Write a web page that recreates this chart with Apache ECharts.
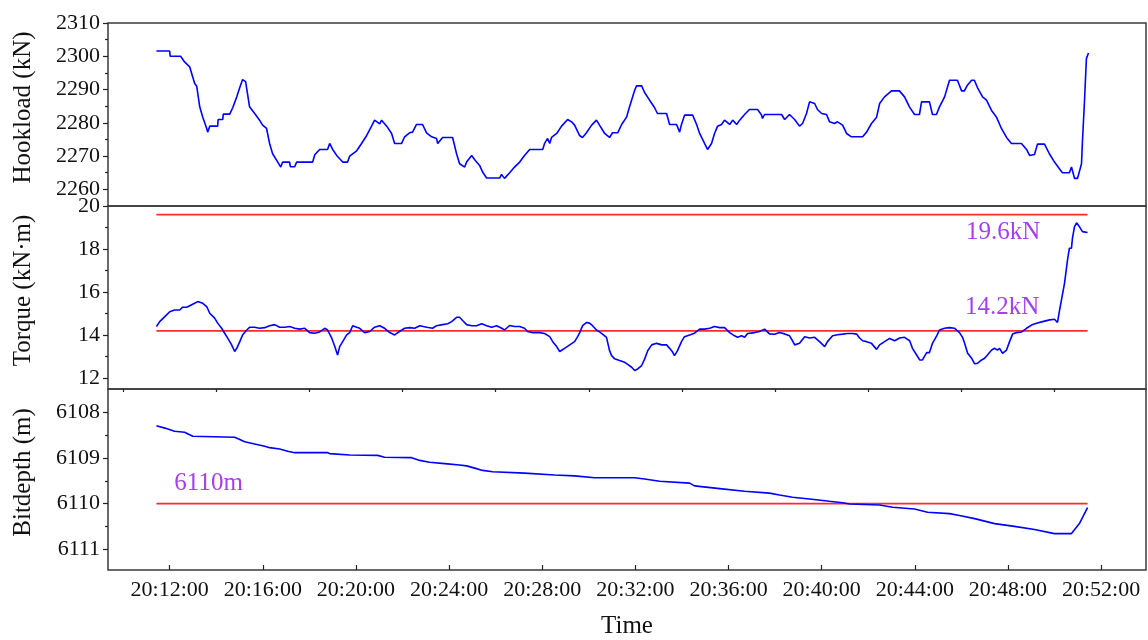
<!DOCTYPE html>
<html><head><meta charset="utf-8">
<script src="https://cdn.jsdelivr.net/npm/echarts@6/dist/echarts.min.js"></script>
<style>html,body{margin:0;padding:0;background:#fff}#c{width:1148px;height:640px}</style>
</head><body><div id="c"></div>
<script>
// time = minutes after 20:00
const hookload = [[11.43,2301.6],[12.00,2301.6],[12.02,2300.0],[12.47,2300.0],[12.64,2298.3],[12.86,2296.8],[13.07,2291.9],[13.16,2291.0],[13.29,2284.8],[13.42,2281.7],[13.59,2278.3],[13.63,2277.2],[13.72,2279.0],[14.06,2279.0],[14.08,2281.0],[14.28,2281.0],[14.30,2282.6],[14.58,2282.6],[14.71,2284.6],[14.88,2287.8],[15.01,2290.6],[15.13,2293.0],[15.26,2292.4],[15.43,2284.8],[15.65,2282.8],[15.86,2280.8],[15.99,2279.3],[16.16,2278.3],[16.29,2273.8],[16.42,2270.7],[16.64,2268.2],[16.77,2266.7],[16.85,2268.2],[17.15,2268.2],[17.18,2266.8],[17.37,2266.8],[17.45,2268.2],[18.14,2268.2],[18.23,2270.4],[18.44,2272.0],[18.78,2272.0],[18.87,2273.8],[19.00,2272.0],[19.17,2270.2],[19.43,2268.2],[19.64,2268.2],[19.73,2270.0],[20.03,2271.6],[20.24,2273.8],[20.46,2276.2],[20.67,2279.0],[20.80,2280.8],[21.02,2279.7],[21.10,2280.8],[21.32,2279.0],[21.53,2276.8],[21.66,2273.8],[21.96,2273.8],[22.09,2275.8],[22.30,2277.0],[22.43,2277.2],[22.60,2279.5],[22.86,2279.5],[23.03,2277.0],[23.25,2275.8],[23.46,2275.3],[23.51,2273.8],[23.72,2275.6],[24.15,2275.6],[24.32,2270.7],[24.45,2267.7],[24.67,2266.7],[24.75,2268.2],[24.97,2270.2],[25.10,2268.9],[25.31,2267.2],[25.44,2265.2],[25.61,2263.4],[26.17,2263.4],[26.25,2264.5],[26.38,2263.3],[26.60,2265.0],[26.81,2266.7],[27.03,2268.2],[27.24,2270.2],[27.46,2272.0],[28.02,2272.0],[28.10,2273.8],[28.23,2275.3],[28.32,2273.8],[28.40,2275.6],[28.62,2276.8],[28.83,2279.0],[29.09,2281.0],[29.26,2280.3],[29.39,2279.3],[29.60,2276.2],[29.73,2275.6],[29.90,2277.0],[30.12,2279.3],[30.33,2280.8],[30.46,2279.3],[30.68,2276.8],[30.89,2275.6],[31.02,2277.0],[31.24,2277.0],[31.41,2279.5],[31.62,2281.7],[31.75,2284.8],[31.97,2289.8],[32.05,2291.1],[32.27,2291.1],[32.39,2289.2],[32.61,2286.8],[32.82,2284.6],[32.95,2282.8],[33.34,2282.8],[33.47,2279.5],[33.77,2279.5],[33.90,2277.2],[33.98,2279.5],[34.11,2282.3],[34.46,2282.3],[34.63,2279.5],[34.76,2276.8],[34.97,2273.8],[35.10,2272.0],[35.27,2273.8],[35.40,2276.8],[35.53,2279.0],[35.70,2279.5],[35.83,2280.8],[36.05,2279.5],[36.18,2280.8],[36.35,2279.5],[36.48,2280.8],[36.69,2282.5],[36.90,2284.0],[37.25,2284.0],[37.42,2282.3],[37.46,2281.3],[37.55,2282.5],[38.28,2282.5],[38.41,2281.0],[38.62,2282.5],[38.84,2281.0],[39.05,2279.0],[39.18,2279.8],[39.35,2282.8],[39.48,2286.3],[39.70,2285.8],[39.82,2284.0],[40.00,2282.8],[40.21,2282.5],[40.34,2280.3],[40.55,2279.8],[40.68,2280.3],[40.90,2279.3],[41.07,2276.8],[41.28,2275.8],[41.76,2275.8],[41.93,2277.2],[42.14,2279.8],[42.36,2281.7],[42.49,2285.8],[42.70,2287.8],[43.00,2289.6],[43.34,2289.6],[43.56,2287.8],[43.77,2284.8],[43.99,2282.5],[44.20,2282.5],[44.29,2286.3],[44.63,2286.3],[44.76,2282.5],[44.93,2282.5],[45.06,2284.8],[45.28,2287.8],[45.49,2292.8],[45.83,2292.8],[46.01,2289.6],[46.13,2289.6],[46.26,2291.3],[46.44,2292.8],[46.56,2292.8],[46.69,2290.6],[46.91,2287.8],[47.08,2286.8],[47.29,2283.8],[47.51,2281.7],[47.72,2278.3],[47.94,2275.6],[48.15,2273.8],[48.58,2273.8],[48.80,2272.0],[48.93,2270.2],[49.14,2270.5],[49.27,2273.6],[49.57,2273.6],[49.78,2270.7],[50.00,2268.2],[50.21,2266.2],[50.34,2265.0],[50.64,2265.0],[50.73,2266.7],[50.86,2263.3],[50.99,2263.3],[51.16,2267.7],[51.20,2274.3],[51.29,2286.8],[51.37,2299.3],[51.46,2301.0]];

const torque = [[11.43,14.40],[11.57,14.63],[11.79,14.86],[12.00,15.09],[12.21,15.17],[12.43,15.17],[12.56,15.30],[12.73,15.30],[12.86,15.37],[13.07,15.48],[13.20,15.56],[13.42,15.48],[13.59,15.33],[13.72,15.02],[13.93,14.79],[14.06,14.56],[14.23,14.32],[14.36,14.09],[14.49,13.86],[14.66,13.55],[14.79,13.24],[14.88,13.39],[15.01,13.70],[15.13,14.01],[15.31,14.24],[15.44,14.37],[15.65,14.37],[15.86,14.32],[16.08,14.35],[16.29,14.44],[16.51,14.49],[16.72,14.37],[16.94,14.37],[17.15,14.40],[17.37,14.32],[17.58,14.28],[17.80,14.32],[18.01,14.12],[18.23,14.09],[18.44,14.15],[18.66,14.32],[18.78,14.24],[18.96,13.86],[19.09,13.47],[19.21,13.08],[19.30,13.47],[19.43,13.70],[19.60,14.01],[19.73,14.12],[19.86,14.44],[20.03,14.37],[20.16,14.32],[20.37,14.12],[20.59,14.17],[20.80,14.37],[21.02,14.44],[21.23,14.32],[21.45,14.12],[21.66,14.01],[21.88,14.18],[22.09,14.32],[22.31,14.35],[22.52,14.32],[22.74,14.44],[23.04,14.37],[23.29,14.32],[23.46,14.44],[23.72,14.49],[23.94,14.53],[24.11,14.63],[24.32,14.83],[24.45,14.83],[24.58,14.68],[24.75,14.49],[24.97,14.44],[25.18,14.44],[25.40,14.53],[25.61,14.44],[25.83,14.37],[26.04,14.44],[26.26,14.32],[26.38,14.24],[26.60,14.45],[26.81,14.40],[27.03,14.40],[27.24,14.32],[27.37,14.17],[27.59,14.12],[27.89,14.12],[28.10,14.08],[28.32,13.93],[28.45,13.70],[28.62,13.47],[28.75,13.24],[28.83,13.16],[28.96,13.39],[29.18,13.55],[29.39,13.70],[29.52,13.93],[29.61,14.12],[29.73,14.44],[29.91,14.59],[30.03,14.56],[30.16,14.44],[30.33,14.24],[30.46,14.15],[30.59,14.05],[30.76,13.90],[30.89,13.28],[30.98,13.05],[31.11,12.90],[31.32,12.82],[31.54,12.74],[31.67,12.64],[31.84,12.51],[31.97,12.36],[32.10,12.43],[32.27,12.59],[32.40,12.90],[32.53,13.28],[32.70,13.55],[32.91,13.62],[33.13,13.55],[33.34,13.55],[33.56,13.28],[33.68,13.05],[33.81,13.28],[33.98,13.70],[34.11,13.93],[34.33,14.01],[34.54,14.09],[34.76,14.28],[34.97,14.28],[35.19,14.32],[35.40,14.40],[35.62,14.35],[35.83,14.35],[36.05,14.12],[36.26,13.97],[36.39,13.90],[36.56,13.97],[36.69,13.90],[36.82,14.08],[37.12,14.12],[37.33,14.17],[37.55,14.28],[37.76,14.06],[37.98,14.04],[38.19,14.12],[38.41,14.06],[38.62,13.97],[38.75,13.74],[38.84,13.55],[39.05,13.62],[39.27,13.93],[39.48,13.87],[39.70,13.90],[39.91,13.70],[40.13,13.47],[40.25,13.70],[40.47,13.97],[40.68,14.02],[40.90,14.05],[41.11,14.08],[41.33,14.08],[41.50,14.05],[41.63,13.87],[41.76,13.74],[41.93,13.70],[42.14,13.62],[42.36,13.34],[42.49,13.55],[42.70,13.70],[42.92,13.85],[43.13,13.74],[43.35,13.87],[43.56,13.90],[43.78,13.74],[43.90,13.39],[44.08,13.08],[44.21,12.85],[44.33,12.85],[44.51,13.19],[44.63,13.19],[44.76,13.62],[44.94,13.97],[45.06,14.24],[45.28,14.32],[45.49,14.35],[45.71,14.32],[45.92,14.12],[46.05,13.90],[46.14,13.62],[46.27,13.16],[46.44,12.93],[46.57,12.67],[46.70,12.70],[46.87,12.85],[47.00,12.93],[47.12,13.08],[47.30,13.31],[47.43,13.39],[47.55,13.31],[47.64,13.39],[47.77,13.16],[47.94,13.31],[48.07,13.70],[48.20,14.05],[48.37,14.12],[48.59,14.15],[48.80,14.32],[49.01,14.47],[49.23,14.55],[49.49,14.63],[49.79,14.71],[50.00,14.74],[50.13,14.59],[50.22,15.17],[50.30,15.64],[50.43,16.41],[50.56,17.50],[50.64,18.04],[50.73,18.04],[50.77,18.50],[50.86,19.04],[50.95,19.22],[51.07,19.04],[51.20,18.81],[51.42,18.77]];

const bitdepth = [[11.43,6108.29],[11.79,6108.34],[12.21,6108.41],[12.64,6108.43],[12.99,6108.52],[13.07,6108.54],[14.79,6108.54],[15.01,6108.59],[15.22,6108.64],[15.65,6108.69],[16.08,6108.74],[16.29,6108.77],[16.72,6108.80],[17.07,6108.85],[17.37,6108.88],[18.78,6108.88],[18.87,6108.90],[19.73,6108.93],[20.93,6108.94],[21.23,6108.98],[22.39,6108.99],[22.74,6109.05],[23.16,6109.09],[23.81,6109.12],[24.45,6109.15],[24.75,6109.17],[25.10,6109.22],[25.44,6109.27],[25.87,6109.30],[27.24,6109.33],[28.53,6109.37],[29.39,6109.39],[30.25,6109.43],[31.97,6109.43],[32.40,6109.46],[33.04,6109.51],[34.33,6109.55],[34.54,6109.61],[35.62,6109.67],[36.69,6109.73],[37.76,6109.77],[38.19,6109.81],[38.75,6109.86],[39.48,6109.90],[40.34,6109.95],[40.90,6109.98],[41.20,6110.01],[42.49,6110.03],[43.05,6110.08],[43.99,6110.12],[44.55,6110.19],[45.49,6110.22],[45.92,6110.26],[46.57,6110.33],[47.43,6110.44],[48.28,6110.50],[49.14,6110.57],[50.00,6110.66],[50.73,6110.66],[51.07,6110.44],[51.42,6110.09]];

const limitSpan = [11.43, 51.42];
const torqueLimits = [19.6, 14.2];
const depthLimits = [6110];
const annoText = ['19.6kN', '14.2kN', '6110m'];
const annoTime = [47.79, 47.75, 13.67];
const annoValue = [18.75, 15.31, 6109.55];
const annoPanel = [1, 1, 2];

const xMajor = [12,16,20,24,28,32,36,40,44,48,52];
const xMinor = [10,14,18,22,26,30,34,38,42,46,50];
const hookMajor = [2260,2270,2280,2290,2300,2310];
const hookMinor = [2265,2275,2285,2295,2305];
const torqueMajor = [12,14,16,18,20];
const torqueMinor = [13,15,17,19];
const depthMajor = [6108,6109,6110,6111];
const depthMinor = [6108.5,6109.5,6110.5];

const FONT = "'Liberation Serif','Times New Roman',serif";
const X_MIN = 9.35, X_MAX = 53.93;
const ranges = [[2255,2310,false],[11.5,20,false],[6107.48,6111.46,true]];
const names = ['Hookload (kN)', 'Torque (kN\u00b7m)', 'Bitdepth (m)'];
const majors = [hookMajor, torqueMajor, depthMajor];
const minors = [hookMinor, torqueMinor, depthMinor];

const grids = [0,1,2].map(i => ({
  left: 108, width: 1038, top: 23 + i*183, height: 183,
  show: true, borderColor: '#3a3a3a', borderWidth: 1.5, backgroundColor: 'transparent'
}));

const pad = n => String(n).padStart(2,'0');
const xAxes = [];
[0,1,2].forEach(i => {
  const last = i === 2;
  xAxes.push({
    type: 'value', gridIndex: i, min: X_MIN, max: X_MAX,
    axisLine: {show: false}, splitLine: {show: false},
    axisTick: {show: last, inside: true, length: 5, customValues: xMajor, lineStyle: {color: '#222', width: 1.2}},
    axisLabel: {show: last, customValues: xMajor, margin: 9, color: '#111', fontFamily: FONT, fontSize: 22,
      formatter: v => '20:' + pad(Math.round(v)) + ':00'},
    name: last ? 'Time' : '', nameLocation: 'middle', nameGap: 44,
    nameTextStyle: {fontFamily: FONT, fontSize: 25, color: '#111'}
  });
  if (last) xAxes.push({
    type: 'value', gridIndex: i, min: X_MIN, max: X_MAX,
    axisLine: {show: false}, splitLine: {show: false}, axisLabel: {show: false},
    axisTick: {show: true, inside: true, length: 3, customValues: xMinor, lineStyle: {color: '#222', width: 1.2}}
  });
});

const yAxes = [];
[0,1,2].forEach(i => {
  const [mn, mx, inv] = ranges[i];
  yAxes.push({
    type: 'value', gridIndex: i, position: 'left', min: mn, max: mx, inverse: inv,
    axisLine: {show: false}, splitLine: {show: false},
    axisTick: {show: true, length: 5, customValues: majors[i], lineStyle: {color: '#222', width: 1.2}},
    axisLabel: {customValues: majors[i], margin: 8, color: '#111', fontFamily: FONT, fontSize: 22,
      formatter: v => String(v)},
    name: names[i], nameLocation: 'middle', nameGap: 72,
    nameTextStyle: {fontFamily: FONT, fontSize: 25, color: '#111', padding: [0,0,0,14]}
  });
  yAxes.push({
    type: 'value', gridIndex: i, position: 'left', min: mn, max: mx, inverse: inv,
    axisLine: {show: false}, splitLine: {show: false}, axisLabel: {show: false},
    axisTick: {show: true, length: 3, customValues: minors[i], lineStyle: {color: '#222', width: 1.2}}
  });
});

const xIdx = [0,1,2];
const blue = {color: '#0000ff', width: 1.6};
const red = {color: '#ff2a2a', width: 1.6};
const series = [];
const addLine = (panel, data, style, z) => series.push({
  type: 'line', xAxisIndex: xIdx[panel], yAxisIndex: panel*2, data: data,
  showSymbol: false, symbol: 'none', lineStyle: style, z: z, silent: true, animation: false
});
torqueLimits.forEach(v => addLine(1, limitSpan.map(t => [t, v]), red, 2));
depthLimits.forEach(v => addLine(2, limitSpan.map(t => [t, v]), red, 2));
addLine(0, hookload, blue, 3);
addLine(1, torque, blue, 3);
addLine(2, bitdepth, blue, 3);
annoText.forEach((txt, k) => series.push({
  type: 'scatter', xAxisIndex: xIdx[annoPanel[k]], yAxisIndex: annoPanel[k]*2,
  data: [[annoTime[k], annoValue[k]]], symbolSize: 0, silent: true, animation: false,
  label: {show: true, position: 'inside', formatter: txt, fontFamily: FONT, fontSize: 25, color: '#8e0ee6'}
}));

const chart = echarts.init(document.getElementById('c'), null, {renderer: 'canvas'});
chart.setOption({
  animation: false, backgroundColor: '#fff',
  grid: grids, xAxis: xAxes, yAxis: yAxes, series: series
});
</script></body></html>
